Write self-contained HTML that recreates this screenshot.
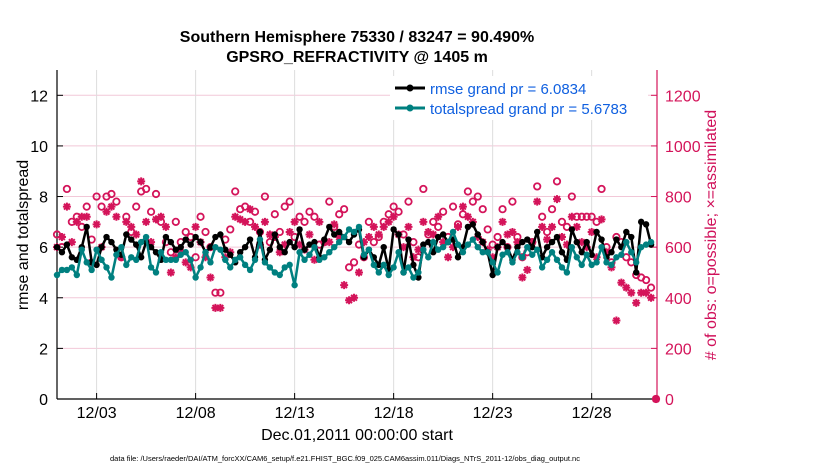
<!DOCTYPE html>
<html><head><meta charset="utf-8"><style>
body{margin:0;background:#fff;}
svg text{font-family:"Liberation Sans",sans-serif;}
</style></head><body>
<svg id="chart" width="830" height="470" viewBox="0 0 830 470">
<text x="357" y="42" text-anchor="middle" font-size="16" font-weight="bold">Southern Hemisphere 75330 / 83247 = 90.490%</text>
<text x="357" y="62" text-anchor="middle" font-size="16" font-weight="bold">GPSRO_REFRACTIVITY @ 1405 m</text>
<g id="grid"></g><g id="axes"></g><g id="marks"></g>
<text transform="translate(28,235) rotate(-90)" text-anchor="middle" font-size="16">rmse and totalspread</text>
<text transform="translate(716,235) rotate(-90)" text-anchor="middle" font-size="16" fill="#d0105a"># of obs: o=possible; ×=assimilated</text>
<text x="357" y="440" text-anchor="middle" font-size="16">Dec.01,2011 00:00:00 start</text>
<text x="345" y="461" text-anchor="middle" font-size="7.5">data file: /Users/raeder/DAI/ATM_forcXX/CAM6_setup/f.e21.FHIST_BGC.f09_025.CAM6assim.011/Diags_NTrS_2011-12/obs_diag_output.nc</text>
<g id="legend">
<rect x="390" y="76" width="258" height="44" fill="#fff"/>
<line x1="395" y1="88" x2="425" y2="88" stroke="#000" stroke-width="3"/>
<circle cx="410" cy="88" r="3.5" fill="#000"/>
<text x="430" y="94" font-size="15" fill="#1060e0">rmse grand pr = 6.0834</text>
<line x1="395" y1="108" x2="425" y2="108" stroke="#008080" stroke-width="3"/>
<circle cx="410" cy="108" r="3.5" fill="#008080"/>
<text x="430" y="114" font-size="15" fill="#1060e0">totalspread grand pr = 5.6783</text>
</g>
</svg>
<script>
const rmse=[6.0,5.8,6.1,5.6,5.5,6.0,6.8,5.4,5.3,6.0,6.4,6.2,5.9,5.7,6.5,6.3,6.1,5.6,6.2,6.0,5.8,5.5,6.4,6.2,5.9,6.0,6.3,6.1,6.4,6.2,5.8,6.0,
6.4,6.5,5.9,5.7,5.4,5.8,6.0,6.3,5.6,6.6,5.5,5.9,6.5,6.0,5.8,6.2,6.0,6.7,5.9,6.1,6.2,5.6,6.3,6.8,6.5,6.6,6.4,6.2,6.5,6.7,
5.6,5.9,5.6,5.3,6.0,5.1,6.7,6.5,5.0,6.3,5.3,4.8,6.1,6.2,5.8,6.4,6.5,6.2,6.3,5.6,6.0,6.8,6.9,6.5,6.2,5.8,4.9,6.0,6.2,6.0,5.5,6.0,
6.2,6.3,6.0,6.6,5.6,6.0,6.2,6.4,5.8,5.5,6.7,6.2,5.8,6.2,5.7,6.6,6.3,5.6,5.8,6.3,6.0,6.6,6.4,5.0,7.0,6.9,6.1];
const spread=[4.9,5.1,5.1,5.2,4.9,5.9,5.4,5.1,5.9,5.5,5.2,4.8,5.7,6.0,5.3,5.6,5.5,6.2,6.4,5.2,5.0,5.8,5.5,5.5,5.5,5.7,5.8,5.5,4.8,5.2,5.8,5.4,
6.0,5.9,5.5,5.2,5.5,5.6,5.3,5.1,5.5,6.3,5.4,5.2,5.0,4.9,5.2,5.3,4.5,5.8,5.5,5.7,6.0,5.5,5.6,5.8,6.0,6.2,6.4,6.7,6.6,6.8,
5.7,5.9,5.3,5.0,5.3,4.9,5.2,5.8,5.0,5.2,4.8,5.0,5.9,5.6,6.2,5.9,6.0,6.2,6.6,6.1,5.8,6.1,6.3,6.0,5.8,5.8,5.4,5.0,5.7,5.8,5.4,5.8,
5.6,6.0,5.7,5.9,5.2,5.5,5.8,5.5,5.2,5.0,6.0,5.6,5.3,5.7,5.3,5.4,6.0,5.4,5.3,5.6,5.7,6.2,5.8,5.4,6.0,6.1,6.2];
const obsPossible=[650,600,830,700,720,680,760,630,800,760,800,810,780,560,720,660,760,820,830,740,810,700,620,580,700,620,660,640,560,720,660,600,
420,420,630,670,820,750,760,700,740,660,800,620,730,660,760,780,640,720,700,740,720,610,620,780,680,730,750,520,540,610,
560,700,620,640,700,730,760,740,650,780,620,560,830,650,700,680,740,640,760,690,730,820,780,800,750,670,610,640,750,600,780,640,
560,580,620,840,720,660,750,860,700,680,800,720,720,720,720,700,830,600,540,640,620,560,540,490,480,470,440,0];
const obsAssim=[600,640,760,620,700,720,720,540,690,600,740,760,720,560,700,680,650,860,700,620,710,720,680,500,560,580,540,520,680,620,560,480,
360,360,560,580,720,710,700,750,680,610,700,650,640,580,610,660,700,610,590,650,550,700,620,620,690,640,450,390,400,500,
620,640,680,650,680,700,720,650,600,680,560,590,700,660,650,720,620,560,600,680,760,720,700,640,620,590,560,600,700,650,660,620,
480,510,620,780,680,630,680,790,640,610,720,680,620,600,660,560,710,580,520,310,460,440,420,380,420,420,400,0];
const xTickDays=[3,8,13,18,23,28];
const xTickLabels=["12/03","12/08","12/13","12/18","12/23","12/28"];
const leftTicks=[0,2,4,6,8,10,12];
const rightTicks=[0,200,400,600,800,1000,1200];
const X0=57,X1=657,Y0=399,YT=70;
const xs=d=>X0+(d-1)*(X1-X0)/30.3;
const yl=v=>Y0-v*(Y0-YT)/13;
const yr=v=>Y0-v*(Y0-YT)/1300;
const NS="http://www.w3.org/2000/svg";
function mk(tag,attrs,parent){const e=document.createElementNS(NS,tag);for(const k in attrs)e.setAttribute(k,attrs[k]);parent.appendChild(e);return e;}
const grid=document.getElementById('grid'),axes=document.getElementById('axes'),marks=document.getElementById('marks');
const crim="#d4145a";
leftTicks.forEach(v=>{
 const y=yl(v);
 if(v>0){const g=mk('line',{x1:X0,x2:X1,y1:y,y2:y,stroke:'#f2c8d8','stroke-width':1},grid);
 
 }
 const t=mk('line',{x1:X0,x2:X0+6,y1:y,y2:y,stroke:'#000'},axes);
 
 
 const l=mk('text',{x:X0-9,y:y+6,'text-anchor':'end','font-size':16},axes);l.textContent=v;
 
 
});
rightTicks.forEach(v=>{
 const y=yr(v);
 const t=mk('line',{x1:X1-6,x2:X1,y1:y,y2:y,stroke:crim},axes);
 
 
 const l=mk('text',{x:X1+8,y:y+6,'font-size':16,fill:crim},axes);l.textContent=v;
 
 
});
xTickDays.forEach((d,i)=>{
 const x=xs(d);
 const g=mk('line',{x1:x,x2:x,y1:YT,y2:Y0,stroke:'#dddddd'},grid);
 
 
 const t=mk('line',{x1:x,x2:x,y1:Y0,y2:Y0-6,stroke:'#000'},axes);
 
 
 const l=mk('text',{x:x,y:Y0+19,'text-anchor':'middle','font-size':16},axes);l.textContent=xTickLabels[i];
 
 
});
const la=mk('line',{x1:X0,x2:X0,y1:YT,y2:Y0,stroke:'#000','stroke-width':1.2},axes);


const ba=mk('line',{x1:X0,x2:X1,y1:Y0,y2:Y0,stroke:'#000','stroke-width':1.2},axes);


const ra=mk('line',{x1:X1,x2:X1,y1:YT,y2:Y0,stroke:crim,'stroke-width':1.2},axes);


const dayOf=i=>1+i*0.25;
obsPossible.forEach((v,i)=>{
 const c=mk('circle',{cx:xs(dayOf(i)),cy:yr(v),r:3.2,fill:'none',stroke:crim,'stroke-width':1.8},marks);
 
 
});
obsAssim.forEach((v,i)=>{
 const x=xs(dayOf(i)),y=yr(v),r=4,d=2.9;
 const p=mk('path',{d:`M${x-r},${y}H${x+r}M${x},${y-r}V${y+r}M${x-d},${y-d}L${x+d},${y+d}M${x-d},${y+d}L${x+d},${y-d}`,stroke:crim,'stroke-width':2,fill:'none'},marks);
 
 
});
function series(vals,color,name){
 const pts=vals.map((v,i)=>xs(dayOf(i)).toFixed(1)+','+yl(v).toFixed(1)).join(' ');
 const p=mk('polyline',{points:pts,fill:'none',stroke:color,'stroke-width':2.5,'stroke-linejoin':'round'},marks);
 
 
 vals.forEach((v,i)=>{
  const c=mk('circle',{cx:xs(dayOf(i)),cy:yl(v),r:3.2,fill:color},marks);
  
  
 });
}
series(rmse,'#000000','rmse');
series(spread,'#008080','totalspread');
marks.parentNode.appendChild(document.getElementById('legend'));
</script>
</body></html>
